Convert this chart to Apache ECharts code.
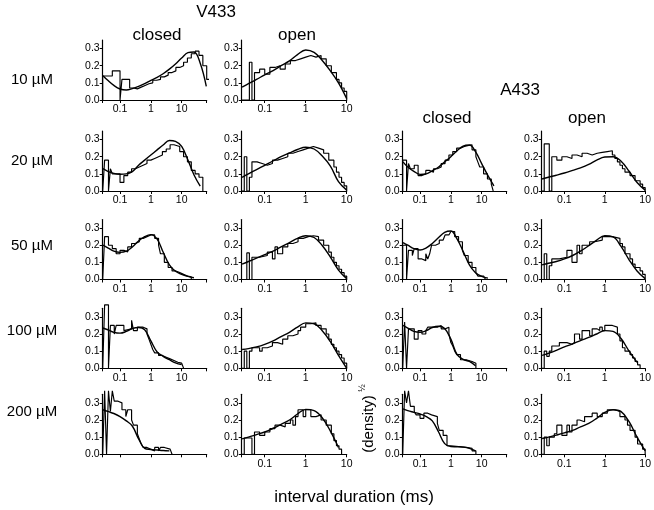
<!DOCTYPE html>
<html><head><meta charset="utf-8">
<script src="https://cdn.jsdelivr.net/npm/echarts@6/dist/echarts.min.js"></script>
<style>html,body{margin:0;padding:0;background:#fff}#c{width:654px;height:510px}</style>
</head><body><div id="c"></div>
<script>
// ---------- DATA ----------
// fit-curve sample positions (ms)
const closedFitX = [0.028, 0.04, 0.063, 0.1, 0.16, 0.25, 0.4, 0.63, 1, 1.6, 2.5, 4, 6.3, 10, 16, 25, 40, 63];
const openFitX   = [0.028, 0.04, 0.063, 0.1, 0.16, 0.25, 0.4, 0.63, 1, 1.6, 2.5, 4, 6.3, 10];
// histogram: log-spaced bins, 16 per decade, first edge at 10^-1.5625 ms; runs are [height, number of bins]
const HIST_START_LOG = -1.5625;
const BINS_PER_DECADE = 16;
const closedRange = [Math.pow(10, -1.5625), Math.pow(10, 1.8125)];
const openRange = [Math.pow(10, -1.5625), 10];
const xTickLabels = ['0.1', '1', '10'];
const yTickValues = [0, 0.1, 0.2, 0.3];
const rowLabels = ['10 \u00b5M', '20 \u00b5M', '50 \u00b5M', '100 \u00b5M', '200 \u00b5M'];

// V433
const v433Closed10Fit = [0.142,0.115,0.085,0.064,0.058,0.066,0.079,0.095,0.114,0.132,0.153,0.18,0.21,0.245,0.276,0.28,0.215,0.08];
const v433Closed10Hist = [[0.14,5],[0.17,4],[0,1],[0.12,4],[0.07,2],[0.065,2],[0.075,2],[0.085,2],[0.095,2],[0.1,2],[0.115,2],[0.12,2],[0.135,2],[0.145,2],[0.16,2],[0.17,2],[0.19,2],[0.2,2],[0.22,2],[0.245,2],[0.27,2],[0.285,2],[0.26,2],[0.2,2],[0.12,2]];
const v433Open10Fit = [0.075,0.095,0.12,0.147,0.172,0.2,0.228,0.265,0.292,0.278,0.232,0.17,0.1,0.008];
const v433Open10Hist = [[0,3],[0.22,1],[0,1],[0.16,2],[0.18,2],[0.15,2],[0.19,2],[0.2,2],[0.18,2],[0.21,2],[0.23,2],[0.24,2],[0.25,2],[0.26,2],[0.25,2],[0.26,2],[0.24,2],[0.2,2],[0.16,2],[0.12,1],[0.1,1],[0.07,1],[0.05,1]];

const v433Closed20Fit = [0.13,0.115,0.103,0.098,0.1,0.113,0.15,0.18,0.21,0.24,0.268,0.295,0.29,0.26,0.18,0.095,0.028,null];
const v433Closed20Hist = [[0,1],[0.18,2],[0,1],[0.13,1],[0.1,4],[0.05,2],[0.09,2],[0.11,2],[0.13,2],[0.14,2],[0.15,2],[0.16,2],[0.18,2],[0.19,2],[0.2,2],[0.21,2],[0.23,2],[0.245,2],[0.27,2],[0.26,3],[0.23,2],[0.2,2],[0.17,2],[0.12,2],[0.1,2],[0.08,2]];
const v433Open20Fit = [0.08,0.1,0.125,0.15,0.175,0.2,0.222,0.242,0.255,0.245,0.205,0.145,0.055,0.005];
const v433Open20Hist = [[0,1],[0.2,1],[0,1],[0.08,1],[0.17,2],[0.16,2],[0.15,2],[0.16,2],[0.18,2],[0.19,2],[0.2,2],[0.22,2],[0.23,2],[0.24,2],[0.25,2],[0.26,2],[0.25,2],[0.24,2],[0.22,2],[0.18,2],[0.14,1],[0.11,1],[0.08,1],[0.05,1],[0.03,1]];

const v433Closed50Fit = [0.2,0.185,0.165,0.158,0.165,0.19,0.225,0.25,0.262,0.235,0.16,0.085,0.048,0.03,0.018,0.01,null,null];
const v433Closed50Hist = [[0,1],[0.25,2],[0.2,2],[0.18,2],[0.15,2],[0.17,2],[0.16,2],[0.19,2],[0.21,2],[0.22,2],[0.24,2],[0.25,2],[0.26,2],[0.26,2],[0.24,2],[0.2,1],[0.15,2],[0.1,2],[0.07,2],[0.05,2],[0.04,2],[0.03,2],[0.02,2],[0.015,2]];
const v433Open50Fit = [0.09,0.105,0.125,0.145,0.165,0.19,0.215,0.24,0.255,0.245,0.2,0.13,0.055,0.005];
const v433Open50Hist = [[0,2],[0.155,1],[0,1],[0.13,3],[0.14,3],[0.16,2],[0.12,1],[0.19,1],[0.15,2],[0.19,2],[0.21,2],[0.22,2],[0.24,2],[0.25,2],[0.255,2],[0.25,2],[0.23,2],[0.2,2],[0.16,1],[0.13,1],[0.1,1],[0.08,1],[0.06,1],[0.04,1],[0.02,1]];

const v433Closed100Fit = [0.235,0.225,0.21,0.205,0.215,0.232,0.238,0.225,0.16,0.095,0.07,0.05,0.032,0.022,null,null,null,null];
const v433Closed100Hist = [[0,1],[0.37,2],[0,1],[0.25,2],[0.2,1],[0.25,4],[0.22,1],[0.23,3],[0.28,1],[0.22,2],[0.24,3],[0.23,2],[0.2,1],[0.17,1],[0.14,1],[0.11,1],[0.09,2],[0.075,2],[0.065,2],[0.055,2],[0.045,2],[0.035,2],[0.03,2],[0.02,1]];
const v433Open100Fit = [0.11,0.115,0.125,0.14,0.16,0.185,0.21,0.24,0.265,0.26,0.22,0.155,0.075,0.0];
const v433Open100Hist = [[0,1],[0.1,1],[0,1],[0.1,1],[0.12,3],[0.1,1],[0.12,2],[0.13,2],[0.15,2],[0.14,2],[0.17,2],[0.19,2],[0.2,2],[0.22,1],[0.24,2],[0.26,2],[0.265,2],[0.25,2],[0.23,2],[0.2,1],[0.17,1],[0.14,1],[0.12,1],[0.1,1],[0.08,1],[0.06,1],[0.03,1]];

const v433Closed200Fit = [0.26,0.25,0.238,0.22,0.195,0.165,0.09,0.035,0.028,0.025,0.022,0.02,null,null,null,null,null,null];
const v433Closed200Hist = [[0,1],[0.37,1],[0,1],[0.37,1],[0.25,1],[0.37,1],[0.31,2],[0.3,2],[0.26,2],[0.22,1],[0.26,2],[0.2,1],[0.17,2],[0.12,1],[0.09,1],[0.06,1],[0.04,2],[0.03,2],[0.02,2],[0.04,2],[0.02,1],[0.04,2],[0.03,3],[0.02,1]];
const v433Open200Fit = [0.09,0.1,0.115,0.13,0.152,0.175,0.2,0.235,0.262,0.255,0.215,0.135,0.04,null];
const v433Open200Hist = [[0,1],[0.095,3],[0,1],[0.13,2],[0.11,2],[0.13,2],[0.15,2],[0.17,2],[0.16,2],[0.18,2],[0.2,1],[0.17,1],[0.22,1],[0.26,2],[0.22,1],[0.26,2],[0.22,2],[0.23,2],[0.2,2],[0.17,2],[0.12,1],[0.08,1],[0.05,1],[0.03,1]];

// A433
const a433Closed20Fit = [0.17,0.14,0.115,0.097,0.1,0.118,0.14,0.17,0.2,0.235,0.262,0.268,0.23,0.16,0.09,0.03,null,null];
const a433Closed20Hist = [[0.18,2],[0,1],[0.16,1],[0.13,2],[0.15,2],[0.09,2],[0.1,2],[0.12,2],[0.11,2],[0.13,2],[0.14,2],[0.16,2],[0.18,2],[0.21,2],[0.23,2],[0.25,2],[0.26,2],[0.27,4],[0.24,2],[0.2,1],[0.17,1],[0.14,2],[0.1,2],[0.07,2],[0.04,1]];
const a433Open20Fit = [0.07,0.08,0.092,0.105,0.12,0.135,0.155,0.18,0.198,0.2,0.175,0.115,0.05,0.005];
const a433Open20Hist = [[0,1],[0.275,2],[0,1],[0.2,2],[0.18,2],[0.2,2],[0.19,2],[0.21,2],[0.2,2],[0.22,2],[0.21,2],[0.22,2],[0.225,2],[0.23,2],[0.235,2],[0.21,1],[0.19,1],[0.17,1],[0.15,1],[0.13,1],[0.11,2],[0.09,2],[0.06,2],[0.04,1],[0.02,1]];

const a433Closed50Fit = [0.215,0.2,0.18,0.172,0.185,0.21,0.245,0.275,0.283,0.235,0.165,0.085,0.04,0.018,0.008,null,null,null];
const a433Closed50Hist = [[0.2,2],[0,1],[0.17,2],[0.14,1],[0.18,2],[0.12,2],[0.11,2],[0.15,1],[0.12,1],[0.15,1],[0.2,2],[0.21,2],[0.23,2],[0.24,1],[0.26,2],[0.27,1],[0.28,2],[0.25,2],[0.22,2],[0.17,1],[0.14,2],[0.1,2],[0.07,2],[0.04,1],[0.02,3],[0.01,1]];
const a433Open50Fit = [0.085,0.095,0.105,0.12,0.14,0.165,0.197,0.23,0.255,0.248,0.195,0.115,0.05,0.005];
const a433Open50Hist = [[0,1],[0.15,1],[0,1],[0.08,1],[0.12,3],[0.13,3],[0.17,2],[0.1,2],[0.2,1],[0.15,1],[0.2,3],[0.22,2],[0.23,3],[0.25,4],[0.24,3],[0.21,1],[0.19,1],[0.15,2],[0.12,1],[0.09,1],[0.07,2],[0.05,1],[0.03,1]];

const a433Closed100Fit = [0.25,0.235,0.215,0.21,0.22,0.238,0.245,0.232,0.17,0.08,0.052,0.04,0.015,null,null,null,null,null];
const a433Closed100Hist = [[0,1],[0.27,1],[0,1],[0.23,3],[0.17,2],[0.22,2],[0.2,2],[0.22,1],[0.24,5],[0.25,2],[0.23,2],[0.24,2],[0.2,1],[0.15,1],[0.13,1],[0.1,1],[0.08,2],[0.05,3],[0.04,3],[0.03,2]];
const a433Open100Fit = [0.075,0.087,0.105,0.125,0.143,0.162,0.18,0.2,0.22,0.215,0.175,0.1,0.035,null];
const a433Open100Hist = [[0,1],[0.1,1],[0.07,1],[0.1,1],[0.13,3],[0.15,3],[0.14,2],[0.15,1],[0.2,2],[0.17,1],[0.22,3],[0.19,1],[0.23,2],[0.22,1],[0.24,1],[0.22,1],[0.25,3],[0.24,2],[0.2,1],[0.16,1],[0.12,1],[0.1,2],[0.08,1],[0.06,1],[0.04,1],[0.02,1]];

const a433Closed200Fit = [0.265,0.255,0.245,0.235,0.22,0.195,0.13,0.062,0.045,0.044,0.042,0.035,0.02,null,null,null,null,null];
const a433Closed200Hist = [[0,1],[0.37,1],[0.3,1],[0.37,1],[0.28,2],[0.25,1],[0.23,2],[0.21,2],[0.24,2],[0.23,2],[0.22,3],[0.18,1],[0.14,2],[0.11,2],[0.05,2],[0.04,8],[0.035,3],[0.02,2]];
const a433Open200Fit = [0.092,0.1,0.112,0.125,0.14,0.16,0.18,0.21,0.245,0.26,0.25,0.19,0.1,0.02];
const a433Open200Hist = [[0,1],[0.1,1],[0.05,1],[0.1,2],[0.12,1],[0.17,2],[0.11,2],[0.17,1],[0.13,1],[0.17,2],[0.2,1],[0.19,2],[0.22,3],[0.24,2],[0.22,2],[0.24,2],[0.26,3],[0.25,2],[0.22,2],[0.2,1],[0.17,1],[0.14,2],[0.1,1],[0.06,2],[0.03,1]];

// ---------- LAYOUT ----------
const ROW_BASE = [100, 191, 279.5, 368.3, 454.3];
const PH = 60;
const COL_LEFT = [102.7, 241.7, 402.7, 541.7];
const COL_W = [104, 105, 104, 105];
const FONT = '"Liberation Sans", Arial, Helvetica, sans-serif';

const panels = [
  {col:0,row:0,fit:v433Closed10Fit,hist:v433Closed10Hist},
  {col:1,row:0,fit:v433Open10Fit,hist:v433Open10Hist},
  {col:0,row:1,fit:v433Closed20Fit,hist:v433Closed20Hist},
  {col:1,row:1,fit:v433Open20Fit,hist:v433Open20Hist},
  {col:0,row:2,fit:v433Closed50Fit,hist:v433Closed50Hist},
  {col:1,row:2,fit:v433Open50Fit,hist:v433Open50Hist},
  {col:0,row:3,fit:v433Closed100Fit,hist:v433Closed100Hist},
  {col:1,row:3,fit:v433Open100Fit,hist:v433Open100Hist},
  {col:0,row:4,fit:v433Closed200Fit,hist:v433Closed200Hist,noXLabels:true},
  {col:1,row:4,fit:v433Open200Fit,hist:v433Open200Hist},
  {col:2,row:1,fit:a433Closed20Fit,hist:a433Closed20Hist},
  {col:3,row:1,fit:a433Open20Fit,hist:a433Open20Hist},
  {col:2,row:2,fit:a433Closed50Fit,hist:a433Closed50Hist},
  {col:3,row:2,fit:a433Open50Fit,hist:a433Open50Hist},
  {col:2,row:3,fit:a433Closed100Fit,hist:a433Closed100Hist},
  {col:3,row:3,fit:a433Open100Fit,hist:a433Open100Hist},
  {col:2,row:4,fit:a433Closed200Fit,hist:a433Closed200Hist},
  {col:3,row:4,fit:a433Open200Fit,hist:a433Open200Hist}
];

function binEdge(i){ return Math.pow(10, HIST_START_LOG + i / BINS_PER_DECADE); }
function histPoints(runs){
  const pts = [[binEdge(0), 0]];
  let k = 0;
  runs.forEach(function(r){ pts.push([binEdge(k), r[0]]); k += r[1]; pts.push([binEdge(k), r[0]]); });
  pts.push([binEdge(k), 0]);
  return pts;
}
function fitPoints(xs, ys){
  const out = [];
  for (let i = 0; i < xs.length; i++) if (ys[i] != null) out.push([xs[i], ys[i]]);
  return out;
}
function xLabel(v){
  const l = Math.log10(v), r = Math.round(l);
  if (Math.abs(l - r) > 1e-6) return '';
  if (r === -1) return xTickLabels[0];
  if (r === 0) return xTickLabels[1];
  if (r === 1) return xTickLabels[2];
  return '';
}

const grids = [], xAxes = [], yAxes = [], series = [];
panels.forEach(function(p, i){
  const closed = (p.col % 2 === 0);
  grids.push({left: COL_LEFT[p.col], top: ROW_BASE[p.row] - PH, width: COL_W[p.col], height: PH});
  const rng = closed ? closedRange : openRange;
  xAxes.push({
    type: 'log', logBase: 10, gridIndex: i, min: rng[0], max: rng[1],
    axisLine: {lineStyle: {color: '#000', width: 1.2}},
    axisTick: {show: true, length: 3, lineStyle: {color: '#000', width: 1}},
    axisLabel: {show: !p.noXLabels, color: '#000', fontSize: 10.5, fontFamily: FONT, margin: 4, formatter: xLabel},
    splitLine: {show: false}, minorTick: {show: false}
  });
  yAxes.push({
    type: 'value', gridIndex: i, min: 0, max: 0.35, interval: 0.1,
    axisLine: {show: true, lineStyle: {color: '#000', width: 1.2}},
    axisTick: {show: true, length: 3, lineStyle: {color: '#000', width: 1}, customValues: yTickValues},
    axisLabel: {color: '#000', fontSize: 10.5, fontFamily: FONT, margin: 3, customValues: yTickValues,
      formatter: function(v){ return v > 0.31 ? '' : v.toFixed(1); }},
    splitLine: {show: false}
  });
  series.push({type: 'line', xAxisIndex: i, yAxisIndex: i, data: histPoints(p.hist), symbol: 'none',
    lineStyle: {color: '#000', width: 1.15}, clip: false, silent: true, animation: false});
  series.push({type: 'line', xAxisIndex: i, yAxisIndex: i, data: fitPoints(closed ? closedFitX : openFitX, p.fit),
    symbol: 'none', smooth: 0.4, lineStyle: {color: '#000', width: 1.4}, silent: true, animation: false});
});

function txt(s, x, y, size, extra){
  return Object.assign({type: 'text', x: x, y: y, silent: true,
    style: {text: s, font: size + 'px ' + FONT, fill: '#000', textAlign: 'center', textVerticalAlign: 'middle'}}, extra || {});
}
const graphics = [
  txt('V433', 216, 12.5, 17),
  txt('closed', 157, 35, 17),
  txt('open', 297, 35, 17),
  txt('A433', 520, 90, 17),
  txt('closed', 447, 118, 17),
  txt('open', 587, 118, 17),
  txt('interval duration (ms)', 354, 497, 17),
  txt('(density)', 369, 424, 15, {rotation: Math.PI / 2}),
  txt('\u00bd', 363, 388, 9, {rotation: Math.PI / 2})
];
const rowLabelY = [80, 161, 246, 331, 412];
rowLabels.forEach(function(s, r){ graphics.push(txt(s, 32, rowLabelY[r], 15)); });

const chart = echarts.init(document.getElementById('c'), null, {renderer: 'canvas'});
chart.setOption({
  backgroundColor: '#fff', animation: false,
  grid: grids, xAxis: xAxes, yAxis: yAxes, series: series, graphic: graphics
});
</script></body></html>
